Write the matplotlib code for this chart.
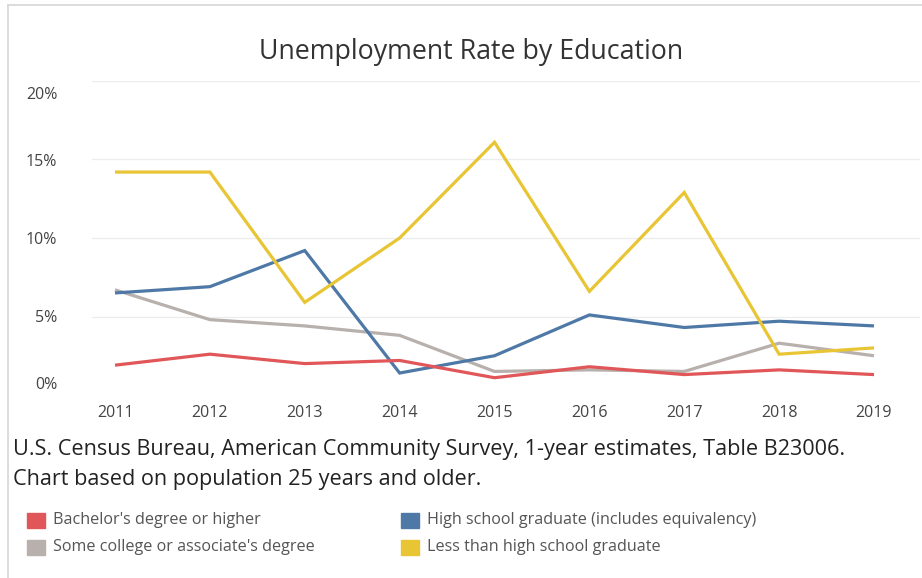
import numpy as np
import matplotlib.pyplot as plt
from matplotlib.lines import Line2D
from matplotlib.patches import Rectangle
from matplotlib.transforms import ScaledTranslation

plt.rcParams['font.family'] = ['Open Sans', 'DejaVu Sans']

years = [2011, 2012, 2013, 2014, 2015, 2016, 2017, 2018, 2019]
bachelor = [1.9, 2.6, 2.0, 2.2, 1.1, 1.8, 1.3, 1.6, 1.3]
some_college = [6.7, 4.8, 4.4, 3.8, 1.5, 1.6, 1.5, 3.3, 2.5]
high_school = [6.5, 6.9, 9.2, 1.4, 2.5, 5.1, 4.3, 4.7, 4.4]
less_than_hs = [14.2, 14.2, 5.9, 10.0, 16.1, 6.6, 12.9, 2.6, 3.0]

y_ticks = [0, 5, 10, 15, 20]
y_tick_labels = ['0%', '5%', '10%', '15%', '20%']

series = [
    ("Bachelor's degree or higher", bachelor, '#e15759'),
    ("Some college or associate's degree", some_college, '#b7b0ad'),
    ('High school graduate (includes equivalency)', high_school, '#4e79a7'),
    ('Less than high school graduate', less_than_hs, '#e8c534'),
]

W, H = 922, 578
fig = plt.figure(figsize=(W / 100, H / 100), dpi=100)

def fx(px):
    return px / W

def fy(py):
    return 1 - py / H

# plot pane: gridlines run from x=92 to 920, 20% at y=81, 0% at y=395
ax = fig.add_axes([fx(92), fy(395), fx(920) - fx(92), fy(81) - fy(395)])
ax.set_xlim(2011 - 23 / 94.875, 2019 + 46 / 94.875)
ax.set_ylim(0, 20)

for name, vals, col in [series[1], series[2], series[3], series[0]]:
    ax.plot(years, vals, color=col, lw=2.3, solid_joinstyle='miter',
            solid_capstyle='butt', label=name)

for v in y_ticks[1:]:
    ax.axhline(v, color='#ececec', lw=0.9, zorder=0)

for s in ax.spines.values():
    s.set_visible(False)

ax.set_xticks(years)
ax.set_xticklabels([str(y) for y in years])
ax.set_yticks(y_ticks)
ax.set_yticklabels(y_tick_labels)
ax.tick_params(axis='both', length=0, labelsize=11.5, labelcolor='#444444')
ax.tick_params(axis='y', pad=25)
ax.tick_params(axis='x', pad=7)

# keep the end labels inside the pane
ylabels = ax.get_yticklabels()
ylabels[0].set_transform(ylabels[0].get_transform()
                         + ScaledTranslation(0, 12 / 100, fig.dpi_scale_trans))
ylabels[-1].set_transform(ylabels[-1].get_transform()
                          + ScaledTranslation(0, -12 / 100, fig.dpi_scale_trans))

fig.text(fx(471), fy(52), 'Unemployment Rate by Education', ha='center',
         va='center', fontsize=19.3, color='#333333')

fig.text(fx(13), fy(450),
         'U.S. Census Bureau, American Community Survey, 1-year estimates, Table B23006.',
         ha='left', va='center', fontsize=15.6, color='#222222')
fig.text(fx(13), fy(480), 'Chart based on population 25 years and older.',
         ha='left', va='center', fontsize=15.6, color='#222222')

# legend, two columns
legend_pos = [(27, 520), (27, 547), (401, 520), (401, 547)]
for (name, vals, col), (lx, ly) in zip(series, legend_pos):
    fig.patches.append(Rectangle((fx(lx), fy(ly + 8)), fx(18), 15 / H,
                                 transform=fig.transFigure, color=col))
    fig.text(fx(lx + 26), fy(ly), name, ha='left', va='center',
             fontsize=11.6, color='#555555')

# thin frame on the left and top
fig.add_artist(Line2D([fx(8), fx(8)], [fy(5), 0], color='#d6d6d6', lw=1.2))
fig.add_artist(Line2D([fx(8), 1], [fy(5), fy(5)], color='#d6d6d6', lw=1.2))

fig.savefig('out.png', dpi=100)
